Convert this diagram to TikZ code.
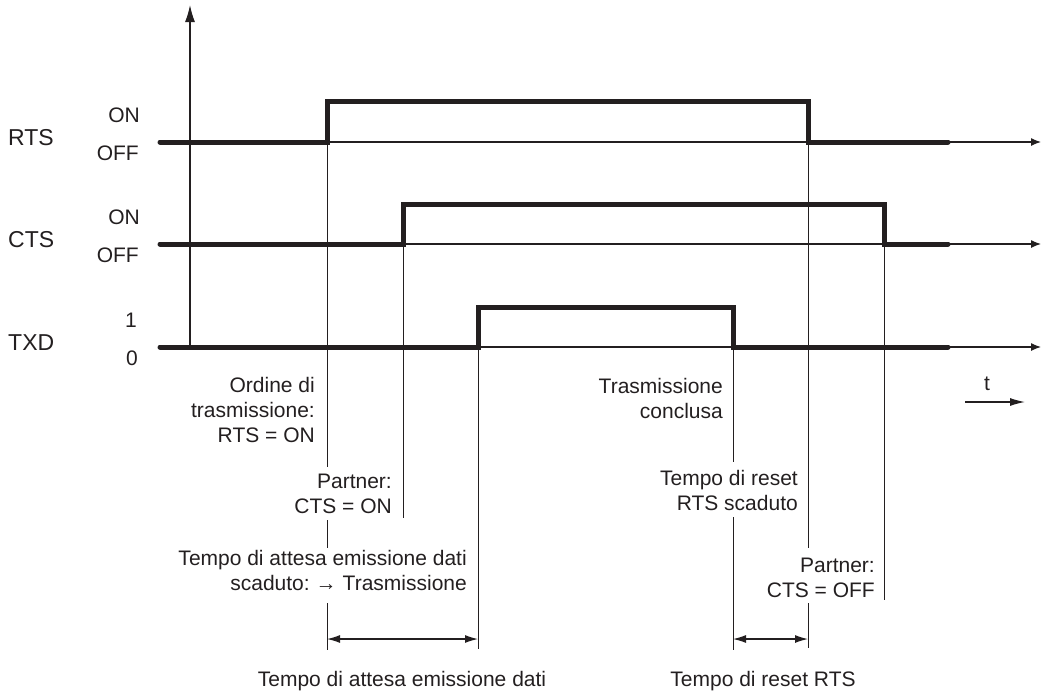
\documentclass[tikz,border=0pt]{standalone}
\usepackage{fontspec}
\setmainfont{Liberation Sans}
\usetikzlibrary{arrows.meta}
\definecolor{ink}{RGB}{35,31,32}
% right-aligned stack of lines whose baseline is the first line
\newcommand\rstack[1]{\vtop{\halign{\hfil##\cr#1\crcr}}}

\begin{document}
\begin{tikzpicture}[x=1pt,y=-1pt,
  signal/.style={line width=5pt, line cap=round, line join=miter, draw=ink},
  timeline/.style={line width=1.2pt, draw=ink, -{Latex[length=10pt,width=8pt]}},
  vaxis/.style={line width=1.3pt, draw=ink, -{Latex[length=17pt,width=10pt]}},
  guide/.style={line width=1pt, draw=ink},
  span/.style={line width=1.2pt, draw=ink, {Latex[length=13pt,width=8pt]}-{Latex[length=13pt,width=8pt]}},
  txt/.style={font=\fontsize{21}{25}\selectfont, text=ink, inner sep=0pt},
  note/.style={txt, anchor=base east},
  sig/.style={txt, font=\fontsize{23}{27}\selectfont, anchor=base west},
  lvl/.style={txt, anchor=base east},
]
\useasboundingbox (0,0) rectangle (1049,694);

% ---- vertical axis ----
\coordinate (axB) at (190,347);
\coordinate (axT) at (190,5);
\draw[vaxis] (axB) -- (axT);

% ---- time lines ----
\coordinate (rS) at (160,142); \coordinate (rE) at (1041,142);
\coordinate (cS) at (160,244); \coordinate (cE) at (1041,244);
\coordinate (tS) at (160,347); \coordinate (tE) at (1041,347);
\draw[timeline] (rS) -- (rE);
\draw[timeline] (cS) -- (cE);
\draw[timeline] (tS) -- (tE);

% ---- signal transitions ----
\coordinate (rUp)  at (327,142); \coordinate (rUpH) at (327,101);
\coordinate (rDnH) at (808,101); \coordinate (rDn)  at (808,142);
\coordinate (rEnd) at (948,142);
\coordinate (cUp)  at (403,244); \coordinate (cUpH) at (403,204);
\coordinate (cDnH) at (884,204); \coordinate (cDn)  at (884,244);
\coordinate (cEnd) at (948,244);
\coordinate (tUp)  at (478,347); \coordinate (tUpH) at (478,307);
\coordinate (tDnH) at (733,307); \coordinate (tDn)  at (733,347);
\coordinate (tEnd) at (948,347);

\draw[signal] (rS) -- (rUp) -- (rUpH) -- (rDnH) -- (rDn) -- (rEnd);
\draw[signal] (cS) -- (cUp) -- (cUpH) -- (cDnH) -- (cDn) -- (cEnd);
\draw[signal] (tS) -- (tUp) -- (tUpH) -- (tDnH) -- (tDn) -- (tEnd);

% ---- guide lines (broken around the notes) ----
\coordinate (gA1) at (327,467); \coordinate (gA2) at (327,520);
\coordinate (gA3) at (327,548); \coordinate (gA4) at (327,603);
\coordinate (gA5) at (327,650);
\draw[guide] (rUp) -- (gA1);
\draw[guide] (gA2) -- (gA3);
\draw[guide] (gA4) -- (gA5);

\coordinate (gB1) at (403,518);
\draw[guide] (cUp) -- (gB1);

\coordinate (gC1) at (478,649);
\draw[guide] (tUp) -- (gC1);

\coordinate (gD1) at (733,462); \coordinate (gD2) at (733,517);
\coordinate (gD3) at (733,650);
\draw[guide] (tDn) -- (gD1);
\draw[guide] (gD2) -- (gD3);

\coordinate (gE1) at (808,548); \coordinate (gE2) at (808,603);
\coordinate (gE3) at (808,648);
\draw[guide] (rDn) -- (gE1);
\draw[guide] (gE2) -- (gE3);

\coordinate (gF1) at (884,600);
\draw[guide] (cDn) -- (gF1);

% ---- interval arrows ----
\coordinate (sA) at (327,639); \coordinate (sC) at (478,639);
\coordinate (sD) at (733,639); \coordinate (sE) at (808,639);
\draw[span] (sA) -- (sC);
\draw[span] (sD) -- (sE);

% ---- signal names and levels ----
\node[sig] (nRTS) at (8,145) {RTS};
\node[sig] (nCTS) at (8,247) {CTS};
\node[sig] (nTXD) at (8,350) {TXD};
\node[lvl] (rOn)  at (140,122) {ON};
\node[lvl] (rOff) at (139,160) {OFF};
\node[lvl] (cOn)  at (140,224) {ON};
\node[lvl] (cOff) at (139,262) {OFF};
\node[lvl] (tOne) at (137,327) {1};
\node[lvl] (tZero) at (138,365) {0};

% ---- event notes ----
\node[note] (ordine) at (315,392) {\rstack{Ordine di\cr trasmissione:\cr RTS = ON}};
\node[note] (ctsOn)  at (392,488) {\rstack{Partner:\cr CTS = ON}};
\node[note] (attesa) at (467,565) {\rstack{Tempo di attesa emissione dati\cr scaduto:\hspace{6pt}→\hspace{6pt}Trasmissione}};
\node[note] (fine)   at (723,393) {\rstack{Trasmissione\cr conclusa}};
\node[note] (reset)  at (798,485) {\rstack{Tempo di reset\cr RTS scaduto}};
\node[note] (ctsOff) at (875,572) {\rstack{Partner:\cr CTS = OFF}};

% ---- time direction ----
\node[txt, anchor=base] (tlab) at (987,390) {t};
\coordinate (tA) at (965,402); \coordinate (tB) at (1025,402);
\draw[line width=1.2pt, draw=ink, -{Latex[length=15pt,width=8pt]}] (tA) -- (tB);

% ---- interval names ----
\node[txt, anchor=base] (iAttesa) at (402,686) {Tempo di attesa emissione dati};
\node[txt, anchor=base] (iReset)  at (763,686) {Tempo di reset RTS};
\end{tikzpicture}
\end{document}
